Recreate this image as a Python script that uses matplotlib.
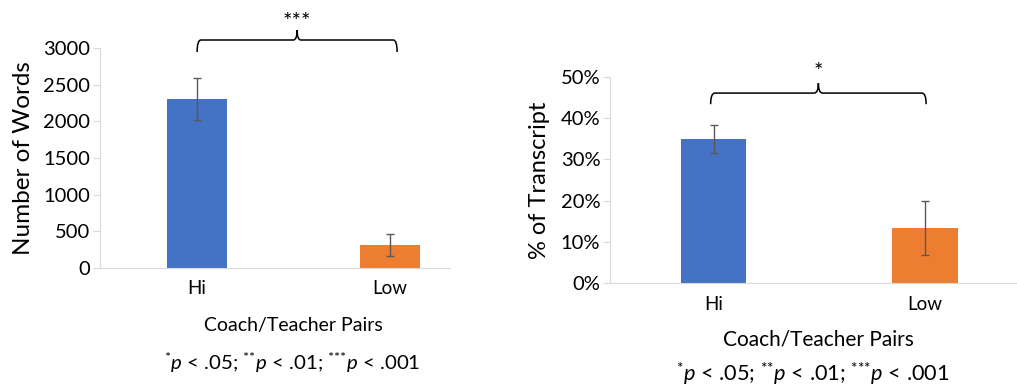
import matplotlib
matplotlib.use("Agg")
import matplotlib.pyplot as plt
from matplotlib.path import Path
from matplotlib.patches import PathPatch
from matplotlib.ticker import FuncFormatter

plt.rcParams['font.family'] = ['Lato', 'DejaVu Sans']
plt.rcParams['mathtext.fontset'] = 'custom'
plt.rcParams['mathtext.rm'] = 'Lato'
plt.rcParams['mathtext.it'] = 'Lato:italic'

# data
groups = ['Hi', 'Low']
words = [2305, 310]
words_err = [290, 150]
pct = [34.9, 13.4]
pct_err = [3.4, 6.6]

blue = '#4472C4'
orange = '#ED7D31'
grid_grey = '#D9D9D9'
err_grey = '#595959'

W, H = 1017, 386
fig = plt.figure(figsize=(W / 100, H / 100), dpi=100)


def px_axes(x0, y0, x1, y1):
    # axes from pixel box (top-left origin)
    return fig.add_axes([x0 / W, 1 - y1 / H, (x1 - x0) / W, (y1 - y0) / H])


def brace(ax, x0, x1, y, up, down, r):
    xm = (x0 + x1) / 2
    verts = [(x0, y - down), (x0, y), (x0 + r, y),
             (xm - r, y), (xm, y), (xm, y + up),
             (xm, y), (xm + r, y),
             (x1 - r, y), (x1, y), (x1, y - down)]
    codes = [Path.MOVETO, Path.CURVE3, Path.CURVE3,
             Path.LINETO, Path.CURVE3, Path.CURVE3,
             Path.CURVE3, Path.CURVE3,
             Path.LINETO, Path.CURVE3, Path.CURVE3]
    ax.add_patch(PathPatch(Path(verts, codes), fill=False, lw=1.1,
                           color='black', clip_on=False))


def style(ax):
    for s in ['top', 'right']:
        ax.spines[s].set_visible(False)
    ax.spines['left'].set_color(grid_grey)
    ax.spines['bottom'].set_color(grid_grey)
    ax.tick_params(axis='y', color=grid_grey, length=5, labelsize=14.5, pad=2)
    ax.tick_params(axis='x', length=0, labelsize=13.5, pad=9)


foot = (r"$^{\text{*}}\it{p}$ < .05; $^{\text{**}}\it{p}$ < .01; "
        r"$^{\text{***}}\it{p}$ < .001")

# left chart
ax1 = px_axes(100, 48, 450, 268)
ax1.bar([0, 1], words, width=0.31, color=[blue, orange],
        yerr=words_err, error_kw=dict(ecolor=err_grey, elinewidth=1, capsize=3, capthick=1))
ax1.set_xlim(-0.503, 1.31)
ax1.set_ylim(0, 3000)
ax1.set_yticks(range(0, 3001, 500))
ax1.set_xticks([0, 1], groups)
style(ax1)
ax1.set_ylabel('Number of Words', fontsize=17.5, labelpad=7)
ax1.set_xlabel('Coach/Teacher Pairs', fontsize=14, labelpad=14)
ax1.xaxis.label.set_x((293 - 100) / 350)
brace(ax1, 0, 1.036, 3109, 136, 164, 0.02)
ax1.text(0.518, 3350, '***', ha='center', va='center', fontsize=16)
fig.text(292 / W, 1 - 363 / H, foot, ha='center', va='center', fontsize=14.7)

# right chart
ax2 = px_axes(610, 77, 1016, 283)
ax2.bar([0, 1], pct, width=0.31, color=[blue, orange],
        yerr=pct_err, error_kw=dict(ecolor=err_grey, elinewidth=1, capsize=3, capthick=1))
ax2.set_xlim(-0.49, 1.43)
ax2.set_ylim(0, 50)
ax2.set_yticks(range(0, 51, 10))
ax2.yaxis.set_major_formatter(FuncFormatter(lambda v, p: f'{v:.0f}%'))
ax2.set_xticks([0, 1], groups)
style(ax2)
ax2.set_ylabel('% of Transcript', fontsize=17, labelpad=8)
ax2.set_xlabel('Coach/Teacher Pairs', fontsize=15, labelpad=12)
ax2.xaxis.label.set_x((818 - 610) / 406)
brace(ax2, -0.014, 1.005, 46.1, 2.4, 2.7, 0.02)
ax2.text(0.495, 51.3, '*', ha='center', va='center', fontsize=16)
fig.text(813 / W, 1 - 374 / H, foot, ha='center', va='center', fontsize=15.7)

fig.savefig('out.png', dpi=100)
